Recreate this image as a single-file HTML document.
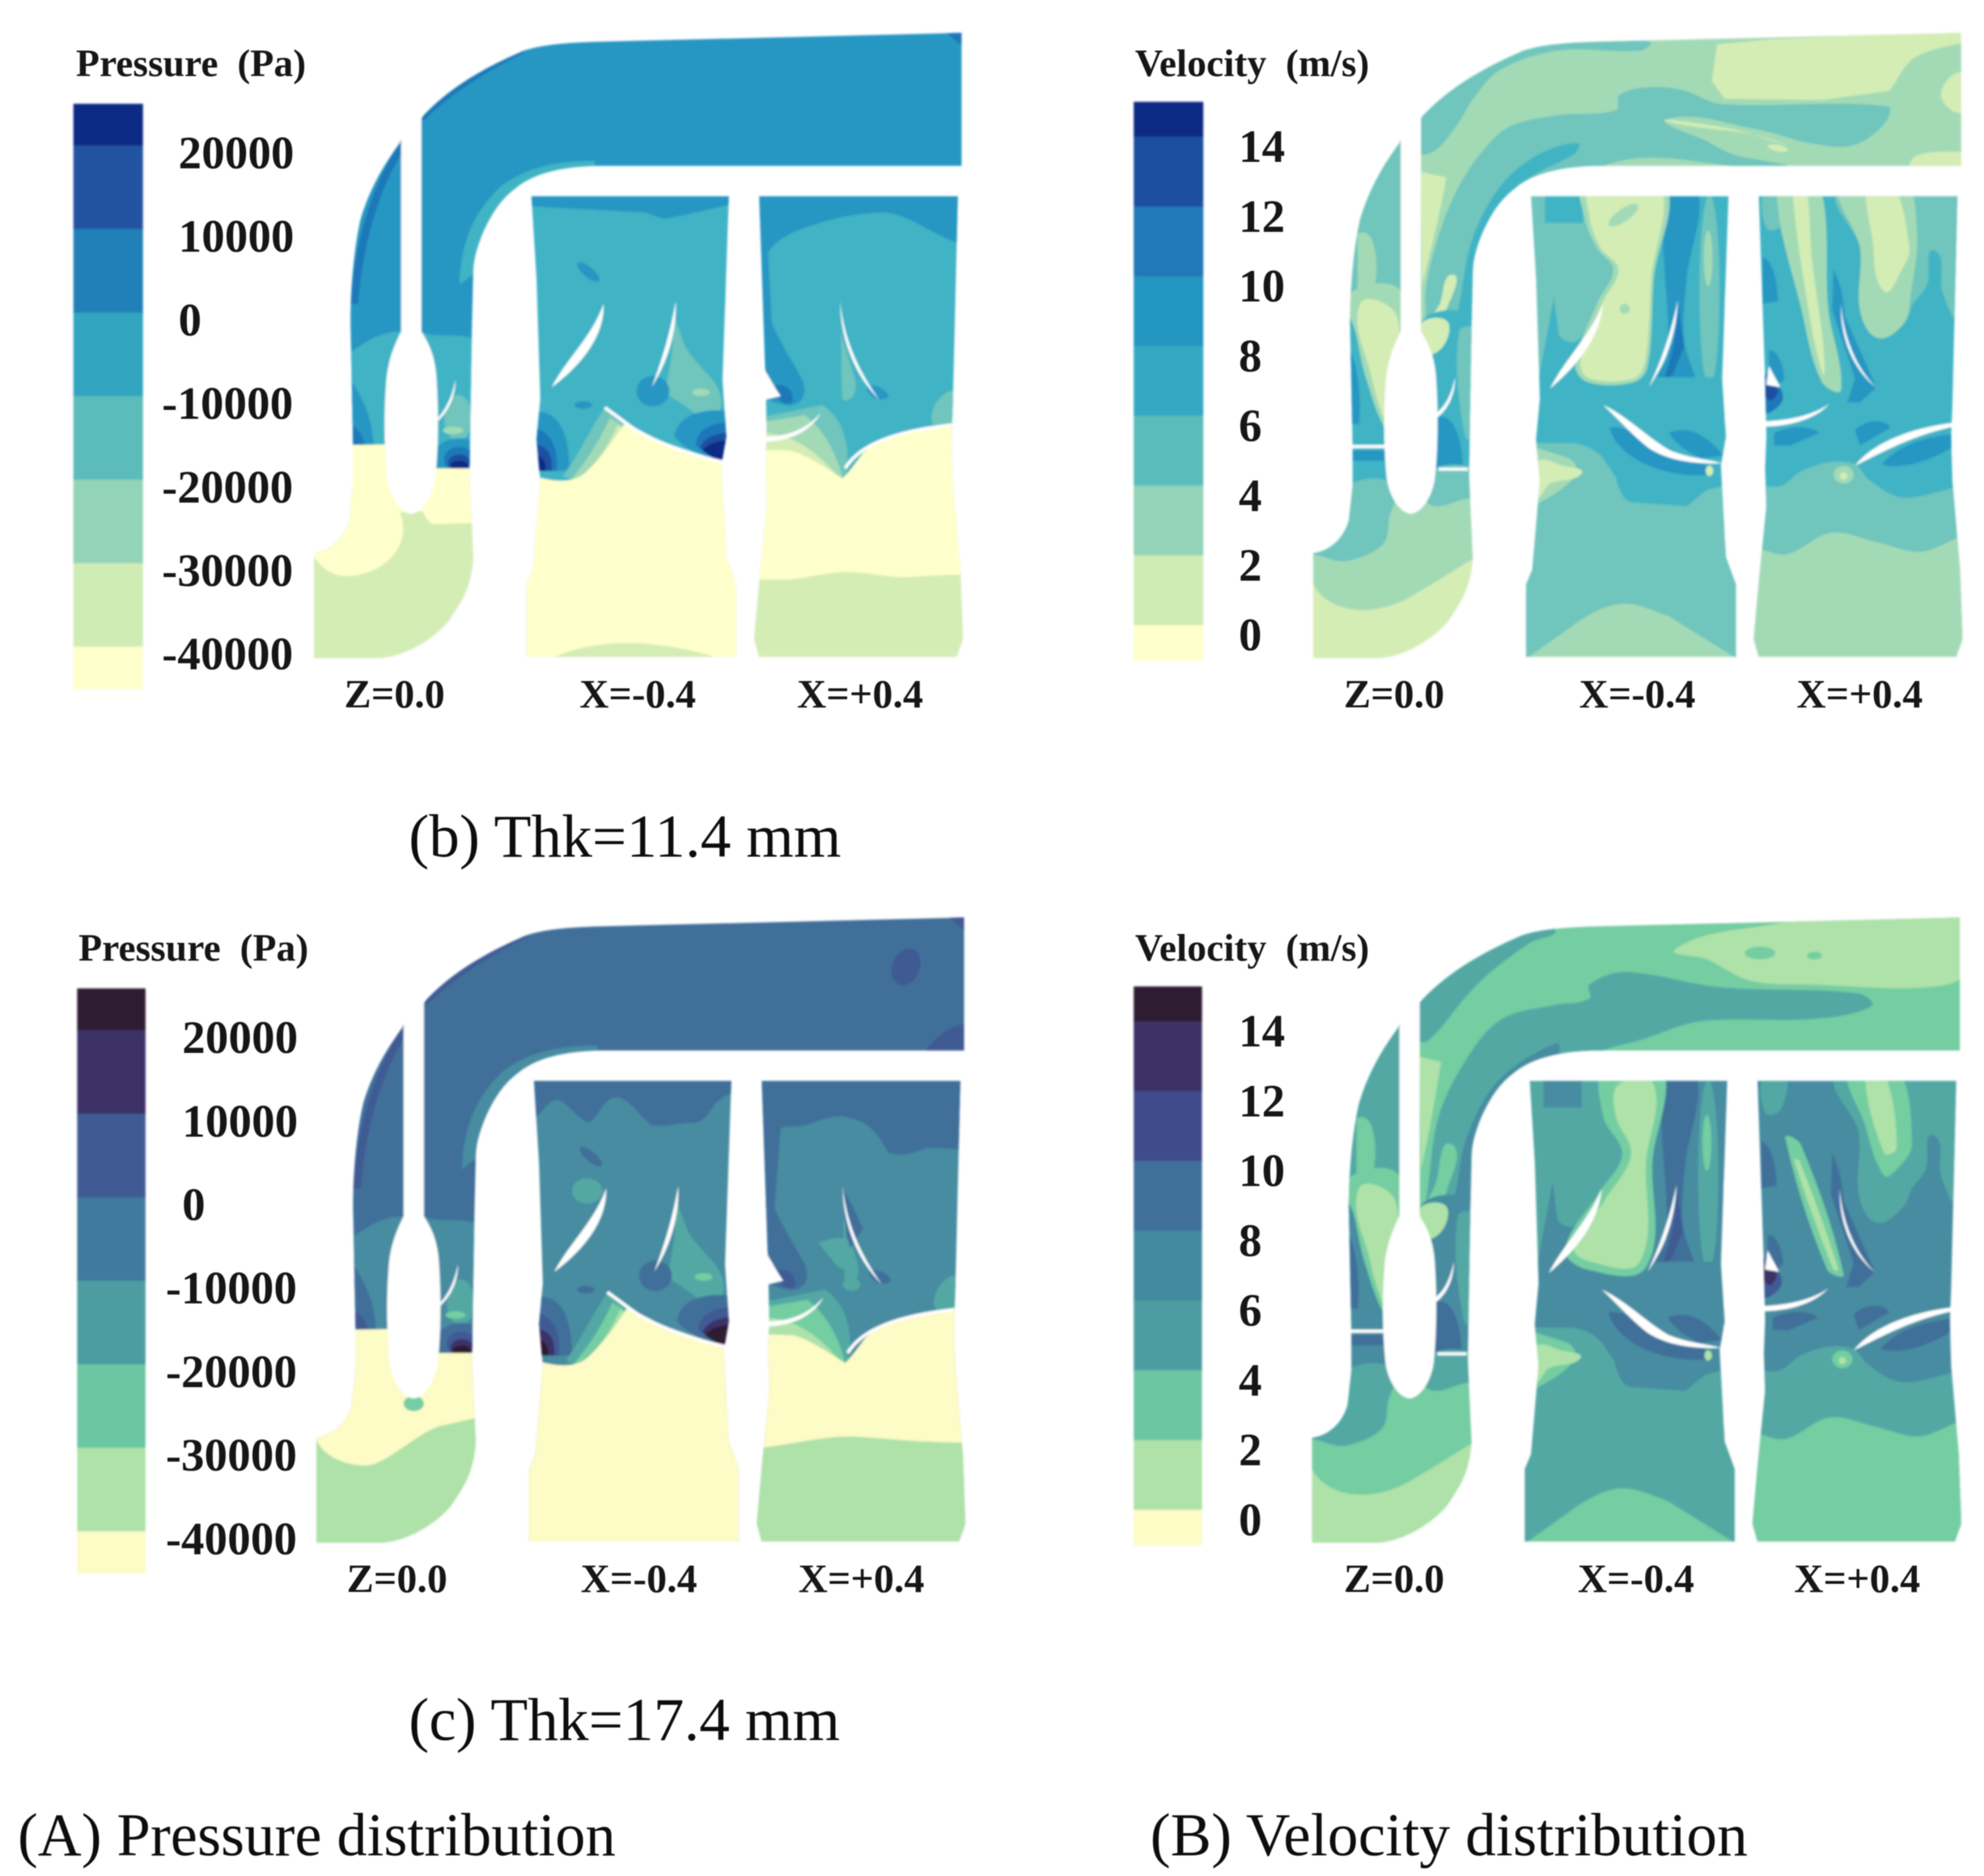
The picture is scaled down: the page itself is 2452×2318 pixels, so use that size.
<!DOCTYPE html>
<html>
<head>
<meta charset="utf-8">
<title>Pressure and velocity distribution</title>
<style>
html,body{margin:0;padding:0;background:#fff;}
svg{display:block;}
.top{--a:#ffffcc;--b:#d4edb5;--c:#a3dab6;--d:#6fc5bd;--e:#40b3c5;--f:#2796c3;--g:#1f78b8;--h:#1e4f9f;--i:#0c2a85;}
.bot{--a:#fdfbc6;--b:#aee2a9;--c:#75cda2;--d:#52a8a4;--e:#478ca1;--f:#406f9a;--g:#3f5a94;--h:#3d3067;--i:#2d1c30;}
.la{fill:var(--a);}.lb{fill:var(--b);}.lc{fill:var(--c);}.ld{fill:var(--d);}.le{fill:var(--e);}
.lf{fill:var(--f);}.lg{fill:var(--g);}.lh{fill:var(--h);}.li{fill:var(--i);}.w{fill:#fff;}
text{font-family:"Liberation Serif",serif;fill:#141414;white-space:pre;filter:url(#softt);}
.lab{font-weight:bold;font-size:32px;}
.ttl{font-weight:bold;font-size:30.5px;}
.tick{font-weight:bold;font-size:36.6px;}
.cap{font-size:48.2px;fill:#0a0a0a;}
.cap2{font-size:47.8px;fill:#0a0a0a;}
.cap3{font-size:48.4px;fill:#0a0a0a;}
</style>
</head>
<body>
<svg xmlns="http://www.w3.org/2000/svg" width="2452" height="2318" viewBox="0 0 1568 1482.3">
<defs>
<filter id="soft" x="-2%" y="-2%" width="104%" height="104%"><feGaussianBlur stdDeviation="0.8"/></filter>
<filter id="softt" x="-5%" y="-10%" width="110%" height="120%"><feGaussianBlur stdDeviation="0.4"/></filter>
<clipPath id="cp-z"><path d="M248 437 C262 435 272 425 276 411 L279 384 L279 352 L277 256 C277 225 280 195 285 173 C292 150 302 132 316 113 L317 110 L334 92 C350 75 372 58 414 40 C430 35 445 34 470 33 L760 26 L760 131 L470 131 C440 132 420 138 407 149 C395 158 388 170 382 183 C377 195 374 205 374 215 L373 256 L371 375 L374 441 C372 465 365 475 355 490 C345 503 320 520 297 520 L248 520 Z"/></clipPath>
<clipPath id="cp-xm"><path d="M420 155 L576 155 L571 300 L574 345 L570 368 L574 440 L582 462 L582 519 L416 519 L416 462 L421 450 L427 380 L424 347 L427 315 L424 220Z"/></clipPath>
<clipPath id="cp-xp"><path d="M600 155 L757 155 L753 320 L752 345 L753 380 L759 450 L761 505 L756 519 L600 519 L596 505 L600 460 L606 400 L605 370 L606 345 L605 300Z"/></clipPath>

<!-- pressure: shared contours -->
<g id="p-z">
  <rect x="240" y="20" width="530" height="510" class="lf"/>
  <path class="le" d="M470 134 L400 160 L376 215 L363 225 C364 195 372 170 395 148 C415 132 440 127 470 127Z"/>
  <path class="lg" d="M277 240 C280 190 295 145 317 110 L317 122 C300 150 287 190 283 240Z"/>
  <path class="lg" d="M334 92 C352 72 372 58 414 40 L414 42 C380 58 352 78 334 96Z"/>
  <path class="lg" d="M748 26 C752 26 756 26 760 26 C760 30 760 34 760 36Z"/>
  <path class="le" d="M277 278 C290 270 300 262 317 262 L317 352 L277 352Z"/>
  <path class="lf" d="M277 300 C285 312 295 330 295 353 L277 353Z"/>
  <path class="lg" d="M277 335 C284 340 288 346 288 353 L277 353 Z"/>
  <path class="le" d="M333 262 C345 268 360 262 376 268 L376 372 L333 372Z"/>
  <ellipse class="ld" cx="362" cy="330" rx="11" ry="18"/>
  <ellipse class="lc" cx="358" cy="340" rx="8" ry="3"/>
  <path class="lf" d="M345 354 C352 345 368 344 376 350 L376 372 L345 372Z"/>
  <ellipse class="lg" cx="363" cy="363" rx="12" ry="10"/>
  <ellipse class="lh" cx="363" cy="366" rx="9" ry="7"/>
  <ellipse class="li" cx="363" cy="368" rx="7" ry="4"/>
  <path class="la" d="M240 352 L326 351 L326 370 L380 370 L380 530 L240 530Z" data-keep="1"/>
</g>
<g id="p-xm">
  <rect x="410" y="150" width="180" height="375" class="le"/>
  <ellipse class="lf" transform="rotate(40 465 215)" cx="465" cy="215" rx="11" ry="4"/>
  <path class="ld" d="M532 248 L540 270 C548 290 572 300 570 320 C565 342 555 330 540 320 L525 310 C530 290 533 270 532 248Z"/>
  <ellipse class="lc" cx="554" cy="310" rx="7" ry="3"/>
  <ellipse class="lf" cx="516" cy="309" rx="13" ry="12"/>
  <ellipse class="lf" cx="461" cy="320" rx="7" ry="3"/>
  <path class="lf" d="M420 326 C440 322 450 340 450 372 L420 372Z"/>
  <path class="lg" d="M420 338 C435 340 441 352 440 372 L420 372Z"/>
  <path class="lh" d="M420 350 C432 352 437 358 436 372 L420 372Z"/>
  <path class="li" d="M420 358 C428 360 432 364 431 372 L420 372Z"/>
  <path class="lf" d="M576 325 C555 322 535 328 533 345 L540 352 L576 370Z"/>
  <path class="lg" d="M576 334 C562 334 550 340 550 352 L576 370Z"/>
  <path class="lh" d="M576 342 C566 342 556 346 553 354 L576 370Z"/>
  <path class="li" d="M576 348 C568 348 560 350 555 356 L576 370Z"/>
  <path class="ld" d="M445 376 C458 358 466 340 478 322 L498 338 C490 355 478 374 458 382Z"/>
  <path class="lc" d="M452 378 C465 362 474 348 482 330 L498 340 C490 356 478 374 460 382Z"/>
  <path class="lb" d="M462 376 C474 362 482 350 488 336 L498 340 C490 356 478 372 464 378Z"/>
  <path class="la" d="M410 372 C436 382 452 382 462 374 C475 362 485 348 494 334 L523 349 L576 367 L590 367 L590 530 L410 530Z"/>
</g>
<g id="p-xp">
  <rect x="590" y="150" width="180" height="375" class="le"/>
  <path class="lf" d="M602 250 L610 255 C616 270 626 285 634 300 C640 315 630 322 620 320 C612 318 605 316 602 312Z"/>
  <path class="lg" d="M612 305 C622 302 628 310 626 318 C620 320 614 318 612 305Z"/>
  <path class="lf" d="M686 305 L702 312 L692 315 Z"/>
  <path class="ld" d="M664 262 L676 300 C678 312 672 318 666 316 C664 300 666 280 664 262Z"/>
  <path class="ld" d="M600 330 L650 320 C665 330 674 350 668 382 L600 360Z"/>
  <path class="lc" d="M600 334 L636 328 C652 340 662 360 667 382 L600 350Z"/>
  <path class="lb" d="M600 342 C625 342 645 355 665 380 L600 356Z"/>
  <path class="ld" d="M740 318 L755 310 L755 335 L738 336Z"/>
  <path class="la" d="M590 355 L624 356 C635 358 650 368 666 378 C672 372 676 366 682 358 C695 346 712 340 755 334 L770 334 L770 530 L590 530Z"/>
</g>
<g id="p-whites">
  <path class="w" d="M317 85 L333 85 L333 262 C338 270 344 280 345 300 C347 330 346 360 344 378 C342 392 334 405 325 406 C316 405 308 392 306 378 C304 360 303 330 305 305 C306 285 312 272 317 262Z"/>
  <path class="w" d="M477 240 C478 265 460 288 436 306 C448 283 468 266 477 240Z"/>
  <path class="w" d="M534 238 C535 262 528 285 515 306 C523 285 530 262 534 238Z"/>
  <path class="w" d="M664 238 C667 270 680 295 695 316 C677 298 664 270 664 238Z"/>
  <path class="w" d="M603 290 C608 298 612 306 617 313 C612 314 608 315 604 316Z"/>
  <path class="w" d="M360 300 C360 315 353 328 342 336 L344 332 C352 325 357 314 360 300Z"/>
  <path class="w" d="M604 345 C625 345 638 338 649 326 C640 342 622 349 604 349Z"/>
  <path d="M478 322 L497 336 C510 346 540 358 571 365" fill="none" stroke="#fff" stroke-width="2.6"/>
  <path d="M668 370 C680 350 712 340 751 336" fill="none" stroke="#fff" stroke-width="2.6"/>
</g>

<!-- velocity: shared contours (top-right panel coordinates) -->
<g id="v-z-low">
  <rect class="ld" x="1060" y="100" width="48" height="170"/>
  <path class="lc" d="M1073 185 C1082 180 1088 190 1088 215 L1085 240 L1073 240 Z"/>
  <rect class="le" x="1060" y="252" width="48" height="100"/>
  <path class="lf" d="M1067 277 C1074 290 1076 320 1074 335 L1064 335 Z"/>
  <path class="lc" d="M1067 232 L1108 232 L1108 340 L1097 342 L1080 300 L1072 265Z"/>
  <path class="lb" d="M1075 240 L1104 250 L1100 330 L1096 335 L1084 298Z"/>
  <rect class="le" x="1060" y="352" width="42" height="34"/>
  <rect class="lf" x="1060" y="356" width="42" height="8"/>
  <path class="ld" d="M1030 430 L1060 386 L1102 382 L1098 409 L1093 430 L1066 443 L1049 441Z"/>
  <path class="le" d="M1123 256 L1170 256 L1170 372 L1130 372Z"/>
  <path class="ld" d="M1153 262 L1170 262 L1170 345 L1158 345Z"/>
  <path class="lf" d="M1135 330 C1148 325 1156 345 1156 372 L1135 372Z"/>
  <path class="lb" d="M1123 256 L1145 256 L1130 280Z"/>
  <path class="ld" d="M1130 372 L1170 372 L1170 392 L1159 394 L1129 398Z"/>
  <path class="lb" d="M1030 455 L1038 462 C1045 475 1060 482 1076 482 C1095 482 1110 475 1119 469 C1135 460 1150 450 1170 438 L1170 530 L1030 530Z"/>
</g>
<g id="v-xm-low">
  <rect x="1200" y="150" width="180" height="375" class="ld"/>
  <rect x="1221" y="150" width="30" height="26" class="le"/>
  <path class="le" d="M1228 235 L1232 265 C1240 275 1250 270 1252 262 L1258 300 L1216 300Z"/>
  <path class="le" d="M1312 150 L1366 150 L1366 300 L1290 300 L1300 270Z"/>
  <ellipse class="ld" cx="1351" cy="230" rx="8" ry="76"/>
  <ellipse class="lc" cx="1350" cy="204" rx="3.5" ry="22"/>
  <path class="lf" d="M1317 150 L1342 150 L1333 220 L1331 269 L1342 306 L1340 316 L1321 313 L1307 304 L1318 280 Z"/>
  <path class="lg" d="M1326 240 L1331 274 L1322 296 L1315 300 C1322 280 1326 260 1326 240Z"/>
  <rect x="1205" y="298" width="170" height="102" class="le"/>
  <path class="lf" d="M1272 338 C1285 335 1305 350 1325 358 C1340 364 1352 364 1350 375 C1320 378 1280 365 1272 338Z"/>
  <path class="lf" d="M1319 342 C1335 335 1350 345 1362 360 L1345 362 C1335 358 1325 352 1319 342Z"/>
  <path class="ld" d="M1205 350 L1244 350 C1255 352 1262 356 1267 362 L1277 377 C1280 390 1285 397 1291 397 L1333 400 L1349 387 L1380 380 L1380 525 L1205 525Z"/>
  <path class="lc" d="M1215 354 L1240 362 C1255 372 1240 385 1215 398Z"/>
  <path class="lb" d="M1215 365 L1235 368 L1250 374 L1225 382 L1215 392Z"/>
  <path class="lc" d="M1200 525 L1249 490 C1265 480 1275 477 1284 477 C1295 477 1305 482 1319 487 L1380 525Z"/>
  <ellipse class="lb" cx="1351" cy="372" rx="3" ry="4"/>
</g>
<g id="v-xp-low">
  <rect x="1380" y="150" width="180" height="375" class="le"/>
  <path class="ld" d="M1454 150 L1550 150 L1546 250 L1535 230 L1529 198 L1523 225 L1512 240 L1505 255 L1484 267 L1470 245 L1470 196Z"/>
  <path class="lf" d="M1393 203 C1400 205 1405 220 1405 238 L1393 240Z"/>
  <path class="lf" d="M1398 277 C1405 275 1410 290 1410 300 L1398 310Z"/>
  <path class="lg" d="M1396 295 L1407 306 L1408 318 L1394 325Z"/>
  <path class="lh" d="M1396 302 L1405 308 L1398 316Z"/>
  <path class="ld" d="M1395 150 L1412 150 L1408 178 L1396 180Z"/>
  <path class="lf" d="M1449 213 C1456 225 1458 245 1458 250 L1483 306 L1470 318 L1460 318 L1466 299 L1456 269 L1448 245Z"/>
  <path class="lf" d="M1402 342 C1415 336 1430 336 1438 342 L1415 352 L1402 352Z"/>
  <path class="lf" d="M1466 340 C1472 332 1490 330 1494 338 L1470 352Z"/>
  <path class="lf" d="M1487 367 C1500 352 1520 345 1545 343 L1545 352 C1530 362 1505 372 1487 367Z"/>
  <path class="ld" d="M1375 387 L1407 384 L1424 372 L1447 365 L1466 367 L1477 379 L1503 393 L1570 392 L1570 535 L1375 535Z"/>
  <path class="lc" d="M1375 436 L1412 438 L1447 421 L1482 428 L1517 436 L1570 426 L1570 535 L1375 535Z"/>
  <ellipse class="lc" cx="1457" cy="375" rx="8" ry="7"/>
  <ellipse class="lb" cx="1457" cy="376" rx="3" ry="3"/>
</g>
<g id="v-whites">
  <path class="w" d="M1107 85 L1123 85 L1123 262 C1128 270 1134 280 1135 300 C1137 330 1136 360 1134 378 C1132 392 1124 405 1115 406 C1106 405 1098 392 1096 378 C1094 360 1093 330 1095 305 C1096 285 1102 272 1107 262Z"/>
  <path class="w" d="M1267 240 C1264 268 1247 288 1225 307 C1236 285 1256 266 1267 240Z"/>
  <path class="w" d="M1326 237 C1325 262 1318 285 1303 306 C1313 285 1321 262 1326 237Z"/>
  <path class="w" d="M1455 240 C1457 270 1470 295 1484 307 C1467 295 1454 270 1455 240Z"/>
  <path class="w" d="M1398 289 C1401 295 1404 300 1407 306 C1403 305 1400 305 1396 304Z"/>
  <path class="w" d="M1267 320 C1285 328 1305 348 1320 356 C1335 362 1350 363 1361 366 C1340 367 1318 364 1303 354 C1290 344 1280 332 1267 320Z"/>
  <path class="w" d="M1394 333 C1415 332 1433 328 1446 319 C1435 331 1415 337 1394 337Z"/>
  <path class="w" d="M1466 368 C1480 350 1510 338 1544 334 L1544 337 C1512 344 1490 356 1466 368Z"/>
  <path class="w" d="M1150 298 C1150 312 1144 325 1134 331 L1134 327 C1142 322 1147 312 1150 298Z"/>
  <rect class="w" x="1069" y="351.5" width="27" height="2.6"/>
  <rect class="w" x="1137" y="369.5" width="23" height="2.4"/>
</g>
</defs>

<rect x="0" y="0" width="1568" height="1482.3" fill="#fff"/>

<g filter="url(#soft)">

<!-- (b) pressure -->
<g class="top">
  <g clip-path="url(#cp-z)">
    <use href="#p-z"/>
    <path class="lb" d="M240 440 L248 440 C255 450 265 456 275 455 C290 455 305 447 312 437 C320 426 320 415 316 405 L334 404 C337 410 340 415 345 414 L380 413 L380 530 L240 530Z"/>
  </g>
  <g clip-path="url(#cp-xm)">
    <use href="#p-xm"/>
    <path class="lf" d="M410 145 L590 145 L590 160 L575 162 L545 169 L525 173 L510 168 L420 163 L410 163Z" data-keep="1"/>
    <path class="lb" d="M425 530 L438 519 C455 512 475 508 494 508 C520 508 545 513 565 519 L575 530Z"/>
  </g>
  <g clip-path="url(#cp-xp)">
    <use href="#p-xp"/>
    <path class="lf" d="M595 150 L760 150 L760 193 C735 185 720 170 700 168 C680 168 660 172 645 177 C625 183 612 190 607 200 L610 255 L600 255Z"/>
    <path class="lb" d="M590 458 L624 458 C640 456 655 452 670 452 C685 452 700 456 712 456 C725 456 740 454 770 454 L770 530 L590 530Z"/>
  </g>
  <use href="#p-whites"/>
</g>

<!-- (c) pressure -->
<g class="bot" transform="translate(2,699)">
  <g clip-path="url(#cp-z)">
    <use href="#p-z"/>
    <ellipse class="lg" cx="714" cy="65" rx="11" ry="15" transform="rotate(20 714 65)"/>
    <path class="lg" d="M730 131 C735 122 748 112 760 110 L760 131Z"/>
    <path class="lb" d="M240 438 L248 438 C252 450 268 459 288 459 C305 457 325 435 345 428 L380 420 L380 530 L240 530Z"/>
    <ellipse class="lc" cx="325" cy="410" rx="8" ry="6"/>
  </g>
  <g clip-path="url(#cp-xm)">
    <use href="#p-xm"/>
    <path class="lf" d="M410 150 L590 150 L590 160 C580 162 570 167 563 173 C558 182 552 188 548 188 C535 188 522 192 513 190 C505 185 495 168 485 168 C475 168 470 186 463 188 C455 186 445 170 438 170 C432 170 425 182 420 185 L410 185Z"/>
    <ellipse class="ld" cx="462" cy="242" rx="12" ry="10"/>
  </g>
  <g clip-path="url(#cp-xp)">
    <use href="#p-xp"/>
    <path class="lf" d="M595 150 L760 150 L760 210 C745 208 735 208 730 208 C718 214 708 214 700 212 C695 202 688 192 680 188 C672 184 665 183 660 183 C650 184 642 188 635 190 C625 192 618 190 615 193 L610 255 L600 255Z"/>
    <path class="lf" d="M664 240 C670 250 676 262 680 272 L668 290Z"/>
    <path class="ld" d="M645 283 C652 280 660 278 668 280 L675 305 C668 305 664 304 660 302 C655 295 650 290 645 283Z"/>
    <ellipse class="ld" cx="671" cy="316" rx="7" ry="5"/>
    <path class="lb" d="M590 446 C615 444 645 436 670 436 C695 437 720 441 770 441 L770 530 L590 530Z"/>
  </g>
  <use href="#p-whites"/>
</g>

<!-- (b) velocity -->
<g class="top" transform="translate(790,0)">
  <g clip-path="url(#cp-z)">
    <g transform="translate(-790,0)">
      <rect x="1030" y="20" width="530" height="510" class="lc"/>
      <path class="lb" d="M1357 35 L1400 31 L1555 24 L1555 33 C1530 38 1515 42 1509 49 C1500 58 1498 68 1492 72 L1440 79 L1363 78 L1353 64Z"/>
      <path class="lb" d="M1552 58 L1534 75 L1552 88Z"/>
      <path class="lb" d="M1509 132 L1552 120 L1552 132Z"/>
      <path class="ld" d="M1110 270 L1124 266 L1127 226 L1138 183 L1152 149 L1172 119 L1193 100 L1231 91 L1277 87 L1280 75 L1301 69 L1329 71 L1360 82 L1492 84 L1489 98 L1464 115 L1430 113 L1388 102 L1318 94 L1350 112 L1370 122 L1410 132 L1260 135 L1170 270Z"/>
      <path class="lb" d="M1318 96 L1370 102 L1410 114 L1385 106Z"/>
      <ellipse class="lb" cx="1405" cy="117" rx="8" ry="2.5" transform="rotate(12 1405 117)"/>
      <path class="ld" d="M1120 85 L1120 120 L1134 119 L1152 98 L1165 77 L1186 55 L1231 40 L1297 40 L1304 33 L1240 25 L1160 55Z"/>
      <path class="le" d="M1247 113 L1245 121 L1218 135 L1197 149 L1172 183 L1164 215 L1164 270 L1145 270 L1152 247 L1162 194 L1176 162 L1193 139 L1218 121Z"/>
      <path class="lb" d="M1123 136 L1143 140 C1138 170 1130 200 1124 225Z"/>
      <path class="lb" d="M1148 217 L1145 240 L1130 258 L1138 240Z"/>
      <use href="#v-z-low"/>
    </g>
  </g>
  <g clip-path="url(#cp-xm)">
    <g transform="translate(-790,0)">
      <use href="#v-xm-low"/>
      <path class="lc" d="M1252 140 L1314 140 L1307 220 L1302 290 L1291 302 L1255 302 L1245 288 L1262 240 L1275 213 L1262 196 L1252 171Z"/>
      <path class="lb" d="M1258 140 L1310 140 L1305 220 L1300 286 L1291 299 L1256 299 L1249 286 L1266 240 L1279 213 L1265 196 L1256 171Z"/>
      <ellipse class="lc" cx="1283" cy="170" rx="14" ry="5" transform="rotate(-35 1283 170)"/>
      <ellipse class="lc" cx="1284" cy="244" rx="4" ry="4"/>
    </g>
  </g>
  <g clip-path="url(#cp-xp)">
    <g transform="translate(-790,0)">
      <use href="#v-xp-low"/>
      <path class="lc" d="M1454 140 L1503 140 L1515 184 L1510 233 L1505 255 L1484 267 L1470 245 L1470 196Z"/>
      <path class="lb" d="M1476 140 L1494 140 L1509 196 L1503 213 L1489 230 L1480 190Z"/>
      <path class="lc" d="M1405 140 L1436 140 L1445 245 L1455 308 L1440 302 L1425 250Z"/>
      <path class="lb" d="M1416 140 L1426 140 L1432 205 L1442 294 L1432 260Z"/>
    </g>
  </g>
  <g transform="translate(-790,0)"><use href="#v-whites"/></g>
</g>

<!-- (c) velocity -->
<g class="bot" transform="translate(789,699)">
  <g clip-path="url(#cp-z)">
    <g transform="translate(-790,0)">
      <rect x="1030" y="20" width="530" height="510" class="lc"/>
      <path class="lb" d="M1325 51 L1385 34 L1555 20 L1555 69 L1525 81 L1435 79 L1385 76 L1350 59Z"/>
      <ellipse class="lc" cx="1392" cy="54" rx="12" ry="5"/>
      <ellipse class="lc" cx="1435" cy="56" rx="6" ry="3"/>
      <path class="ld" d="M1110 270 L1124 266 L1138 183 L1165 130 L1190 105 L1230 95 L1257 90 L1257 79 L1285 69 L1360 81 L1470 86 L1480 96 L1435 106 L1345 108 L1300 122 L1260 135 L1170 200 L1165 270Z"/>
      <path class="ld" d="M1120 85 L1120 122 L1130 123 L1160 88 L1178 70 L1210 46 L1230 35 L1200 25 L1150 55Z"/>
      <path class="le" d="M1231 125 L1232 135 L1197 149 L1172 183 L1164 215 L1164 270 L1145 270 L1152 240 L1160 200 L1185 155Z"/>
      <path class="lb" d="M1123 136 L1140 140 C1135 170 1130 200 1124 225Z"/>
      <path class="lc" d="M1148 205 L1145 240 L1130 262 L1136 235Z"/>
      <use href="#v-z-low"/>
    </g>
  </g>
  <g clip-path="url(#cp-xm)">
    <g transform="translate(-790,0)">
      <use href="#v-xm-low"/>
      <path class="lc" d="M1270 140 L1314 140 L1307 218 L1302 302 L1255 304 L1238 288 L1265 243 L1283 213 L1268 183Z"/>
      <path class="lb" d="M1280 158 L1308 158 L1302 218 L1297 298 L1258 298 L1245 287 L1270 248 L1290 213 L1278 183Z"/>
    </g>
  </g>
  <g clip-path="url(#cp-xp)">
    <g transform="translate(-790,0)">
      <use href="#v-xp-low"/>
      <path class="lc" d="M1462 140 L1498 140 L1512 205 L1500 225 L1490 230 L1475 190Z"/>
      <path class="lb" d="M1475 148 L1490 148 L1500 208 L1490 212Z"/>
      <path class="lc" d="M1412 200 L1424 205 L1458 308 L1445 304Z"/>
      <path class="lb" d="M1419 218 L1423 218 L1454 304 L1450 304Z"/>
    </g>
  </g>
  <g transform="translate(-790,0)"><use href="#v-whites"/></g>
</g>
</g>

<g id="colorbars" filter="url(#soft)"></g>

<text class="ttl" x="60" y="60">Pressure  (Pa)</text>
<text class="ttl" x="897" y="60">Velocity  (m/s)</text>
<text class="ttl" x="62" y="759">Pressure  (Pa)</text>
<text class="ttl" x="897" y="759">Velocity  (m/s)</text>

<text class="lab" x="272" y="559">Z=0.0</text>
<text class="lab" x="458" y="559">X=-0.4</text>
<text class="lab" x="630" y="559">X=+0.4</text>
<text class="lab" x="1062" y="559">Z=0.0</text>
<text class="lab" x="1248" y="559">X=-0.4</text>
<text class="lab" x="1420" y="559">X=+0.4</text>
<text class="lab" x="274" y="1258">Z=0.0</text>
<text class="lab" x="459" y="1258">X=-0.4</text>
<text class="lab" x="631" y="1258">X=+0.4</text>
<text class="lab" x="1062" y="1258">Z=0.0</text>
<text class="lab" x="1247" y="1258">X=-0.4</text>
<text class="lab" x="1418" y="1258">X=+0.4</text>

<text class="cap" x="323" y="677">(b) Thk=11.4 mm</text>
<text class="cap" x="323" y="1375">(c) Thk=17.4 mm</text>
<text class="cap2" x="14" y="1466">(A) Pressure distribution</text>
<text class="cap3" x="909" y="1466">(B) Velocity distribution</text>
</svg>

<script>
var pressureTicks = [20000, 10000, 0, -10000, -20000, -30000, -40000];
var pressureRange = [25000, -45000];
var velocityTicks = [14, 12, 10, 8, 6, 4, 2, 0];
var velocityRange = [15, -1];
var pressureColorsTop = ['#0e2a85', '#2353a0', '#2080b8', '#32a5c1', '#5cbcbb', '#93d3b8', '#d0ecb5', '#ffffcb'];
var pressureColorsBottom = ['#2d1c30', '#3d3067', '#3f5a94', '#417a9c', '#4d9ca2', '#6cc6a2', '#aee2a9', '#fdfbc6'];
var velocityColorsTop = ['#0e2a85', '#1e4f9f', '#2078b8', '#2496c0', '#34a8c2', '#5cbcbb', '#93d3b8', '#d0ecb5', '#ffffcb'];
var velocityColorsBottom = ['#2d1c30', '#3d3067', '#414c8c', '#3f6f9a', '#428a9e', '#4d9ca2', '#6cc6a2', '#aee2a9', '#fdfbc6'];

function pressureAxis(v, dy) { return 115 + dy + (20000 - v) * 0.0066; }
function velocityAxis(v, dy) { return 108 + dy + (14 - v) * 27.57; }

var SVGNS = 'http://www.w3.org/2000/svg';
var barsRoot = document.getElementById('colorbars');
var labelRoot = barsRoot.parentNode;

function drawBar(ticks, range, colors, axis, x, w, dy, labelX, negX, labelOffset) {
  var edges = [range[0]].concat(ticks).concat([range[1]]);
  for (var i = 0; i < colors.length; i++) {
    var y0 = axis(edges[i], dy);
    var y1 = axis(edges[i + 1], dy);
    var r = document.createElementNS(SVGNS, 'rect');
    r.setAttribute('x', x);
    r.setAttribute('y', y0);
    r.setAttribute('width', w);
    r.setAttribute('height', y1 - y0 + 0.5);
    r.setAttribute('fill', colors[i]);
    
    
    barsRoot.appendChild(r);
  }
  for (var j = 0; j < ticks.length; j++) {
    var t = document.createElementNS(SVGNS, 'text');
    t.setAttribute('class', 'tick');
    t.setAttribute('x', ticks[j] < 0 ? negX : labelX);
    t.setAttribute('y', axis(ticks[j], dy) + labelOffset);
    
    
    t.textContent = String(ticks[j]);
    labelRoot.appendChild(t);
  }
}

drawBar(pressureTicks, pressureRange, pressureColorsTop, pressureAxis, 58, 55, 0, 141, 128, 18);
drawBar(pressureTicks, pressureRange, pressureColorsBottom, pressureAxis, 61, 54, 699, 144, 131, 18);
drawBar(velocityTicks, velocityRange, velocityColorsTop, velocityAxis, 896, 55, 0, 979, 979, 20);
drawBar(velocityTicks, velocityRange, velocityColorsBottom, velocityAxis, 896, 54, 699, 979, 979, 20);

// Round the straight-segment contour outlines so bands read as smooth iso-lines.
function smoothOutline(d) {
  var n = d.match(/-?[\d.]+/g).map(Number);
  var p = [];
  for (var i = 0; i + 1 < n.length; i += 2) { p.push([n[i], n[i + 1]]); }
  var len = p.length;
  function tangent(k) {
    var a = p[(k - 1 + len) % len], b = p[(k + 1) % len];
    var dx = b[0] - a[0], dy = b[1] - a[1], m = Math.sqrt(dx * dx + dy * dy) || 1;
    return [dx / m, dy / m];
  }
  var out = 'M' + p[0][0] + ' ' + p[0][1];
  for (var k = 0; k < len; k++) {
    var a = p[k], b = p[(k + 1) % len];
    var s = Math.sqrt(Math.pow(b[0] - a[0], 2) + Math.pow(b[1] - a[1], 2)) * 0.33;
    var t1 = tangent(k), t2 = tangent((k + 1) % len);
    out += 'C' + (a[0] + t1[0] * s) + ' ' + (a[1] + t1[1] * s) + ' ' + (b[0] - t2[0] * s) + ' ' + (b[1] - t2[1] * s) + ' ' + b[0] + ' ' + b[1];
  }
  return out + 'Z';
}
var contourPaths = document.querySelectorAll('path.lb,path.lc,path.ld,path.le,path.lf,path.lg,path.lh');
for (var q = 0; q < contourPaths.length; q++) {
  var dAttr = contourPaths[q].getAttribute('d');
  if (!/[Cc]/.test(dAttr) && !contourPaths[q].hasAttribute('data-keep')) {
    contourPaths[q].setAttribute('d', smoothOutline(dAttr));
  }
}
</script>
</body>
</html>
